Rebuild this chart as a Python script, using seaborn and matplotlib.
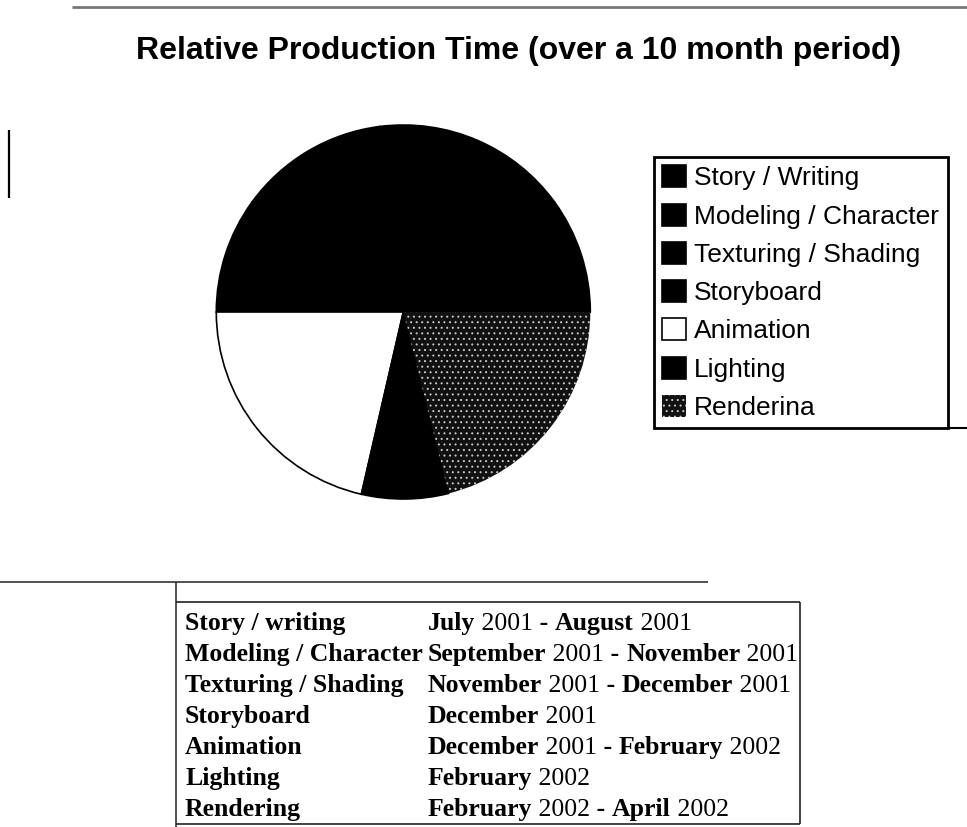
import matplotlib
matplotlib.use("Agg")
import matplotlib.pyplot as plt
import seaborn as sns
from matplotlib.lines import Line2D

# ---------------- data ----------------
phases = ["Story / Writing", "Modeling / Character", "Texturing / Shading",
          "Storyboard", "Animation", "Lighting", "Renderina"]
shares = [10, 17, 13, 10, 21.4, 7.5, 21.1]
slice_colors = ["black", "black", "black", "black", "white", "black", "#111111"]

title = "Relative Production Time (over a 10 month period)"

table_phases = ["Story / writing", "Modeling / Character", "Texturing / Shading",
                "Storyboard", "Animation", "Lighting", "Rendering"]
table_periods = [
    [("July", True), (" 2001", False), (" - ", True), ("August", True), (" 2001", False)],
    [("September", True), (" 2001", False), (" - ", True), ("November", True), (" 2001", False)],
    [("November", True), (" 2001", False), (" - ", True), ("December", True), (" 2001", False)],
    [("December", True), (" 2001", False)],
    [("December", True), (" 2001", False), (" - ", True), ("February", True), (" 2002", False)],
    [("February", True), (" 2002", False)],
    [("February", True), (" 2002", False), (" - ", True), ("April", True), (" 2002", False)],
]

# ---------------- style ----------------
sns.set_theme(style="white")
plt.rcParams["font.family"] = ["Liberation Sans", "DejaVu Sans"]
plt.rcParams["hatch.linewidth"] = 0.7

W, H = 967, 827
fig = plt.figure(figsize=(W / 100, H / 100), dpi=100)
fig.patch.set_facecolor("white")


def fx(px):
    return px / W


def fy(py):
    return 1 - py / H


# full-figure overlay axes for text / rules
ov = fig.add_axes([0, 0, 1, 1])
ov.set_xlim(0, W)
ov.set_ylim(H, 0)
ov.axis("off")

# ---------------- pie ----------------
cx, cy, r = 403.3, 312.0, 187.0
pad = 1.05
size = 2 * r * pad
pax = fig.add_axes([fx(cx - size / 2), fy(cy + size / 2), size / W, size / H])
wedges, _ = pax.pie(shares, colors=slice_colors, startangle=0, counterclock=True,
                    wedgeprops=dict(edgecolor="black", linewidth=1.2))
pax.set_xlim(-pad, pad)
pax.set_ylim(-pad, pad)
pax.set_aspect("equal")
pax.axis("off")
rend = wedges[6]
rend.set_edgecolor("#c8c8c8")
rend.set_hatch("...")
rend.set_linewidth(0)

# ---------------- legend ----------------
leg = fig.legend(wedges, phases, loc="upper left",
                 bbox_to_anchor=(fx(654), fy(157)), bbox_transform=fig.transFigure,
                 borderaxespad=0, frameon=True, fancybox=False, framealpha=1,
                 edgecolor="black", fontsize=19, handlelength=0.9, handleheight=0.9,
                 handletextpad=0.3, borderpad=0.32, labelspacing=0.5)
leg.get_frame().set_linewidth(2)
for t in leg.get_texts():
    t.set_color("black")

# ---------------- title ----------------
fig.text(fx(519), fy(59.3), title, ha="center", va="baseline",
         fontsize=23, fontweight="bold", color="black")

# ---------------- decorative rules ----------------
rules = [
    ((72, 967), (7, 7), "#777777", 2.0),
    ((9.3, 9.3), (130, 198), "black", 1.6),
    ((0, 708), (581.5, 581.5), "#333333", 1.2),
    ((176, 176), (581.5, 827), "#333333", 1.2),
    ((176, 800), (601.7, 601.7), "#222222", 1.2),
    ((800, 800), (601.7, 824), "#222222", 1.2),
    ((176, 800), (824, 824), "#222222", 1.2),
]
for xs, ys, c, lw in rules:
    ov.add_line(Line2D(xs, ys, color=c, linewidth=lw, solid_capstyle="butt"))

# legend bottom border continues to the right edge
fig.canvas.draw()
bb = leg.get_frame().get_window_extent(fig.canvas.get_renderer())
ybot = H - bb.y0
ov.add_line(Line2D((bb.x1 - 1, W), (ybot, ybot), color="black", linewidth=1.5,
                   solid_capstyle="butt"))

# ---------------- table ----------------
serif = ["Liberation Serif", "DejaVu Serif"]
fs = 18.5
row0, step = 630, 31
for i, (name, parts) in enumerate(zip(table_phases, table_periods)):
    yb = row0 + step * i
    ov.text(185, yb, name, ha="left", va="baseline", fontsize=fs,
            family=serif, fontweight="bold", color="black")
    prev = None
    for txt, bold in parts:
        kw = dict(fontsize=fs, family=serif, fontweight="bold" if bold else "normal",
                  color="black", ha="left")
        if prev is None:
            prev = ov.text(428, yb, txt, va="baseline", **kw)
        else:
            prev = ov.annotate(txt, xy=(1, 0), xycoords=prev, va="bottom", **kw)

fig.savefig("out.png", dpi=100)
